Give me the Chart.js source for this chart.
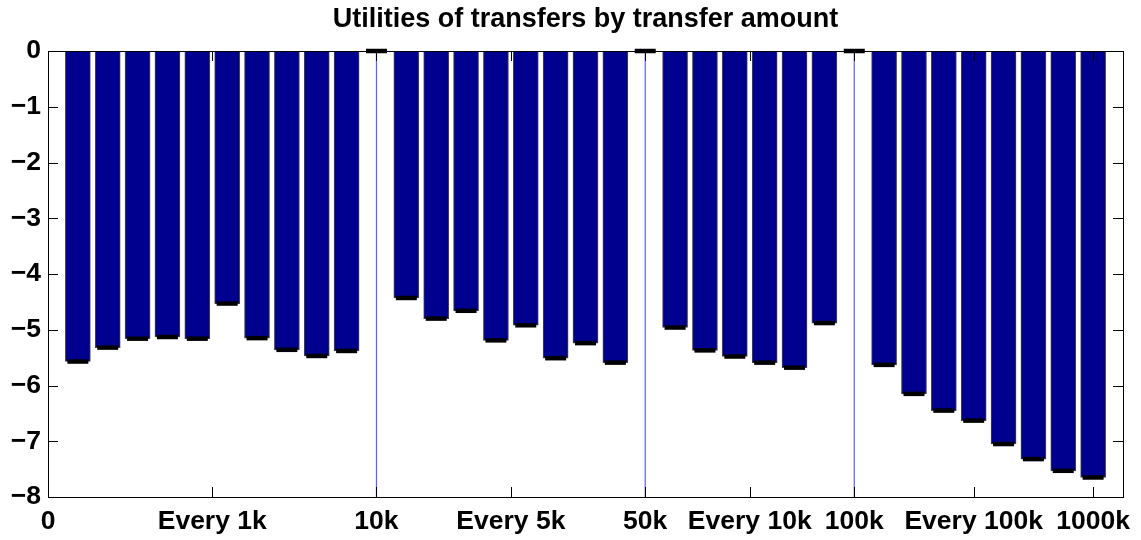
<!DOCTYPE html>
<html>
<head>
<meta charset="utf-8">
<script src="https://cdn.jsdelivr.net/npm/chart.js@4.4.0/dist/chart.umd.min.js"></script>
<style>
  html, body { margin: 0; padding: 0; background: #fff; }
  #wrap { width: 1141px; height: 540px; }
</style>
</head>
<body>
<div id="wrap"><canvas id="chart"></canvas></div>
<script>
// Bar values per group
const every1k = [-5.57, -5.32, -5.16, -5.13, -5.16, -4.53, -5.15, -5.36, -5.47, -5.38];
const every5k = [-4.43, -4.80, -4.66, -5.19, -4.92, -5.51, -5.24, -5.59];
const every10k = [-4.96, -5.37, -5.48, -5.59, -5.68, -4.88];
const every100k = [-5.63, -6.15, -6.45, -6.63, -7.05, -7.32, -7.53, -7.65];
const groupStart = [1, 12, 21, 28];

// separators (zero bars + vertical lines)
const sepPos = [11, 20, 27];
const sepVals = [0, 0, 0];

const xTickPos = [0, 5.5, 11, 15.5, 20, 23.5, 27, 31, 35];
const xTickLabels = ['0', 'Every 1k', '10k', 'Every 5k', '50k', 'Every 10k', '100k', 'Every 100k', '1000k'];
const yTicks = [0, -1, -2, -3, -4, -5, -6, -7, -8];
const yTickLabels = ['0', '\u22121', '\u22122', '\u22123', '\u22124', '\u22125', '\u22126', '\u22127', '\u22128'];
const xMin = 0;
const xMax = 36;

const barColor = '#00008f';
const sepColor = '#5c5cff';

Chart.defaults.font.family = '"Liberation Sans", Arial, sans-serif';
Chart.defaults.font.weight = 'bold';
Chart.defaults.color = '#000';

const groups = [every1k, every5k, every10k, every100k];
const barPoints = groups.flatMap((g, gi) => g.map((v, i) => ({ x: groupStart[gi] + i, y: v })));
const sepPoints = sepPos.map((p, i) => ({ x: p, y: sepVals[i] }));
const allPoints = barPoints.concat(sepPoints);

// frame + inward ticks, matlab style
const boxTicks = {
  id: 'boxTicks',
  afterDatasetsDraw(c) {
    const { ctx, chartArea: a, scales } = c;
    ctx.save();
    ctx.strokeStyle = '#000';
    ctx.lineWidth = 1;
    ctx.beginPath();
    xTickPos.forEach((v) => {
      const px = Math.round(scales.x.getPixelForValue(v)) + 0.5;
      ctx.moveTo(px, a.bottom);
      ctx.lineTo(px, a.bottom - 10);
      ctx.moveTo(px, a.top);
      ctx.lineTo(px, a.top + 10);
    });
    yTicks.forEach((v) => {
      const py = Math.round(scales.y.getPixelForValue(v)) + 0.5;
      ctx.moveTo(a.left, py);
      ctx.lineTo(a.left + 10, py);
      ctx.moveTo(a.right, py);
      ctx.lineTo(a.right - 10, py);
    });
    ctx.stroke();
    ctx.strokeRect(Math.round(a.left) + 0.5, Math.round(a.top) + 0.5,
      Math.round(a.right - a.left), Math.round(a.bottom - a.top));
    ctx.restore();
  },
};

new Chart(document.getElementById('chart'), {
  type: 'bar',
  data: {
    datasets: [
      {
        type: 'line',
        data: allPoints,
        showLine: false,
        pointStyle: 'line',
        pointRadius: 10.5,
        pointBorderWidth: 4.5,
        pointBorderColor: '#000',
        pointBackgroundColor: '#000',
        clip: false,
        order: 0,
      },
      ...sepPos.map((p) => ({
        type: 'line',
        data: [{ x: p, y: yTicks[0] }, { x: p, y: yTicks[yTicks.length - 1] }],
        borderColor: sepColor,
        borderWidth: 1.2,
        pointRadius: 0,
        order: 1,
      })),
      {
        data: allPoints,
        backgroundColor: barColor,
        borderColor: '#444',
        borderWidth: 1,
        barThickness: 25,
        order: 2,
      },
    ],
  },
  options: {
    responsive: true,
    maintainAspectRatio: false,
    animation: false,
    layout: {
      padding: { left: 0, right: 18, top: 0, bottom: 0 },
    },
    scales: {
      x: {
        type: 'linear',
        min: xMin,
        max: xMax,
        offset: false,
        grid: { display: false, drawTicks: false, offset: false },
        border: { display: false },
        afterBuildTicks: (s) => { s.ticks = xTickPos.map((v) => ({ value: v })); },
        afterFit: (s) => { s.height = 43; },
        ticks: {
          autoSkip: false,
          maxRotation: 0,
          padding: 9,
          font: { size: 26.5, weight: 'bold' },
          callback: (v, i) => xTickLabels[i],
        },
      },
      y: {
        min: yTicks[yTicks.length - 1],
        max: yTicks[0],
        grid: { display: false, drawTicks: false },
        border: { display: false },
        afterBuildTicks: (s) => { s.ticks = yTicks.map((v) => ({ value: v })); },
        afterFit: (s) => { s.width = 48; },
        ticks: {
          padding: 7,
          font: { size: 26.5, weight: 'bold' },
          callback: (v, i) => yTickLabels[i],
        },
      },
    },
    plugins: {
      legend: { display: false },
      tooltip: { enabled: false },
      title: {
        display: true,
        text: 'Utilities of transfers by transfer amount',
        fullSize: false,
        color: '#000',
        font: { size: 27, weight: 'bold' },
        padding: { top: 3, bottom: 15.6 },
      },
    },
  },
  plugins: [boxTicks],
});
</script>
</body>
</html>
